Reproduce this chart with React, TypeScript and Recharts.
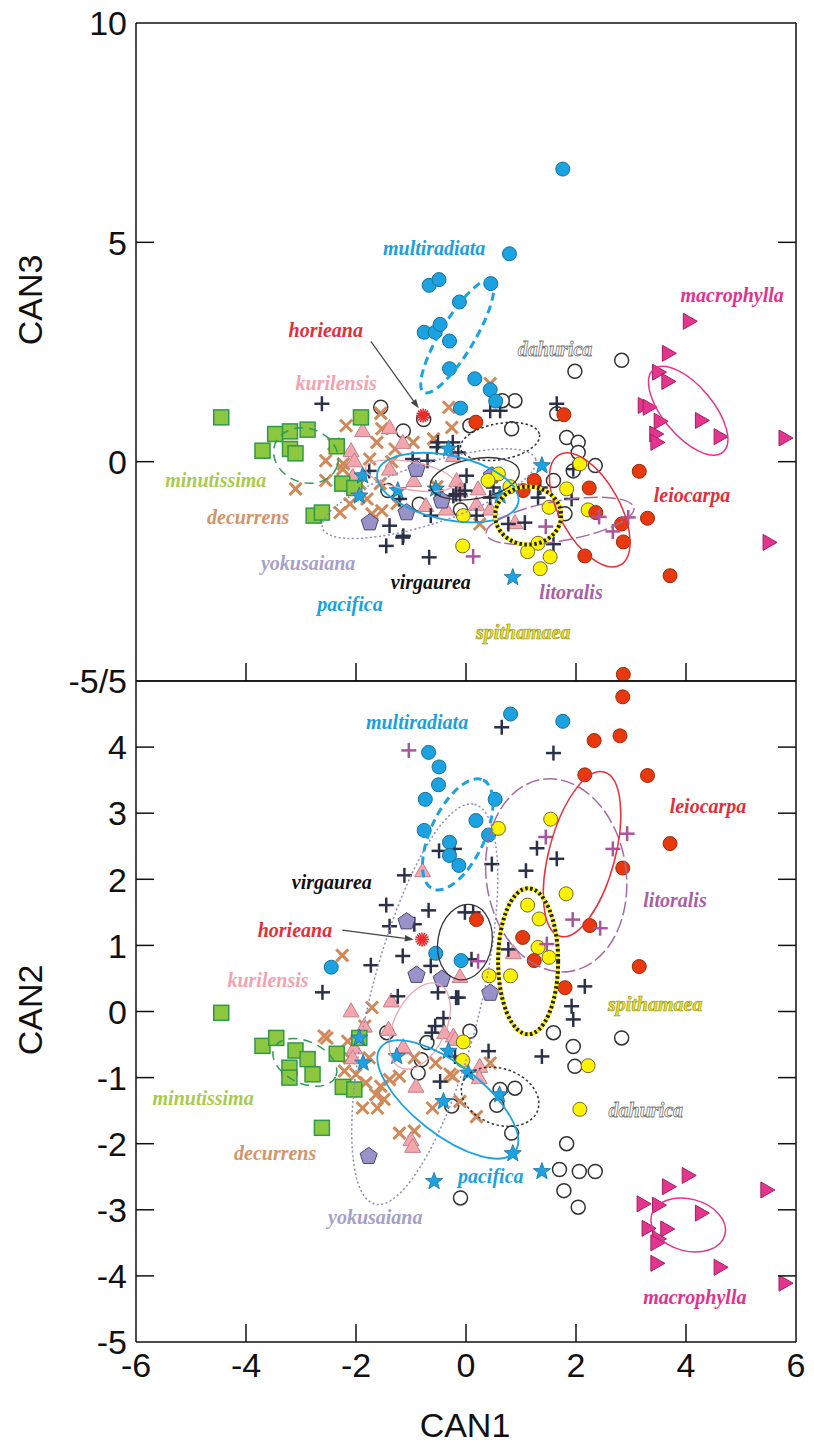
import React from 'react';
import { ScatterChart, Scatter, XAxis, YAxis, ReferenceDot, ReferenceLine } from 'recharts';

// ---------- top panel: CAN1 vs CAN3 ----------
const multiradiataT = [[1.76,6.67],[0.79,4.74],[0.45,4.06],[-0.12,3.64],[-0.67,4.02],[-0.49,4.15],[-0.76,2.95],[-0.56,2.95],[-0.47,3.13],[-0.3,2.75],[-0.3,2.12],[0.16,1.89],[0.44,1.64],[0.54,1.38],[-0.1,1.22]];
const horieanaT = [[-0.78,1.05]];
const kurilensisT = [[-1.88,0.71],[-2.09,0.25],[-2.03,0.02],[-1.39,0.78],[-1.15,0.44],[-1.39,-0.17],[-0.95,-0.43],[-0.73,-1.0],[-0.36,-1.08],[-2.06,-0.34],[-0.17,-0.43],[0.22,-0.62],[0.19,-0.97],[0.44,-1.08],[-0.23,0.14],[-0.11,-0.66],[0.89,-1.39]];
const minutissimaT = [[-4.45,1.01],[-3.47,0.63],[-3.2,0.69],[-2.88,0.73],[-3.7,0.25],[-3.2,0.29],[-3.1,0.19],[-2.35,0.35],[-1.91,1.01],[-2.25,-0.5],[-2.03,-0.6],[-2.77,-1.23],[-2.62,-1.16]];
const decurrensT = [[-3.1,-0.62],[-2.55,0.02],[-2.55,-0.43],[-2.18,0.82],[-2.24,-0.17],[-1.55,1.1],[-0.31,1.24],[-1.53,0.75],[-1.62,0.44],[-2.23,-0.05],[-1.75,0.06],[-1.29,0.29],[-0.96,0.44],[-0.59,0.52],[-0.26,0.78],[-1.8,-0.85],[-2.11,-0.96],[-1.93,-0.5],[-1.56,-0.5],[-1.53,-1.12],[-1.71,-1.19],[-2.29,-1.16],[-0.53,-0.57],[0.25,-1.42],[0.44,1.78],[-1.25,-0.95],[-2.4,0.4],[-1.35,0.0]];
const yokusaianaT = [[-0.9,-0.17],[0.47,-0.32],[-0.44,-0.89],[-1.08,-1.16],[-1.75,-1.39]];
const virgaureaT = [[-2.62,1.32],[-1.76,-0.21],[-0.97,0.06],[-0.7,0.02],[-1.21,-0.85],[-1.39,-1.46],[-1.15,-1.73],[-1.45,-1.92],[-0.67,-2.18],[-0.64,-1.23],[-0.51,0.44],[-0.24,0.44],[-0.53,0.33],[-0.14,0.21],[-0.55,-0.66],[-0.18,-0.74],[-0.11,-0.74],[0.01,-0.32],[0.5,-0.59],[0.44,-0.82],[0.19,-1.23],[0.44,1.16],[0.62,1.16],[1.65,1.32],[1.95,-0.17],[1.31,-0.82],[1.35,-0.59],[1.92,-0.85],[1.07,-1.39],[0.77,-1.42],[1.59,-1.88],[-0.02,-0.66],[-1.14,-1.69],[-0.23,-0.78]];
const pacificaT = [[-1.88,-0.32],[-1.94,-0.78],[-1.24,-0.66],[-0.55,-0.62],[-0.32,0.29],[1.38,-0.09],[0.62,-0.78],[0.85,-2.64]];
const dahuricaT = [[-1.55,1.24],[-0.77,0.96],[-1.14,0.7],[-1.42,-0.66],[-0.85,-0.97],[-0.1,-1.1],[0.89,1.39],[0.66,1.39],[0.07,0.82],[0.83,0.75],[1.98,2.06],[2.83,2.31],[1.65,1.09],[1.83,0.55],[2.04,0.44],[2.04,0.21],[2.35,-0.09],[1.95,-0.21],[1.59,-0.43],[1.8,-1.19]];
const spithamaeaT = [[0.59,-0.28],[0.8,-0.57],[0.4,-0.43],[-0.05,-1.23],[-0.06,-1.92],[1.83,-0.62],[1.51,-1.04],[2.22,-1.1],[1.31,-1.86],[1.12,-2.05],[1.53,-2.17],[1.35,-2.44],[2.07,-0.05]];
const leiocarpaT = [[0.18,0.9],[1.78,1.07],[3.15,-0.22],[2.24,-0.6],[3.3,-1.29],[2.83,-1.42],[2.86,-1.83],[2.36,-1.16],[2.16,-2.15],[3.71,-2.6],[1.24,-0.43],[1.04,-0.66],[2.86,-4.85]];
const litoralisT = [[1.45,-1.48],[0.13,-2.16],[2.42,-1.26],[2.67,-1.59],[2.95,-1.27]];
const macrophyllaT = [[4.06,3.2],[3.68,2.47],[3.5,2.04],[3.67,1.83],[3.24,1.28],[3.33,1.24],[3.53,0.92],[4.28,0.94],[3.45,0.63],[3.47,0.44],[4.62,0.57],[5.8,0.54],[5.51,-1.84]];

// ---------- bottom panel: CAN1 vs CAN2 ----------
const multiradiataB = [[-0.68,3.92],[-0.49,3.7],[-0.5,3.43],[-0.74,3.21],[-0.76,2.74],[-0.3,2.56],[-0.3,2.36],[-0.13,2.21],[-2.45,0.67],[-0.55,0.88],[-0.09,0.77],[0.81,4.5],[1.76,4.39],[0.53,3.21],[0.18,2.89],[0.41,2.67]];
const horieanaB = [[-0.8,1.09]];
const kurilensisB = [[-0.79,2.13],[-1.36,0.16],[-2.09,0.01],[-1.85,-0.22],[-2.03,-0.55],[-2.06,-0.7],[-1.41,-0.27],[-1.15,-0.55],[-0.91,-1.13],[-1.0,-1.94],[-0.97,-2.04],[-0.39,-0.32],[-0.23,-0.37],[-1.14,-0.53],[-0.11,0.53],[0.25,-0.83],[0.86,0.89],[-0.2,-0.42],[0.24,-1.0]];
const minutissimaB = [[-4.45,-0.02],[-3.7,-0.52],[-3.45,-0.4],[-3.1,-0.59],[-2.88,-0.72],[-3.21,-0.85],[-3.21,-1.0],[-2.79,-0.95],[-2.35,-0.64],[-2.24,-1.14],[-2.03,-1.18],[-2.62,-1.76],[-1.94,-0.4]];
const decurrensB = [[-2.25,0.85],[-1.71,0.06],[-2.53,-0.4],[-1.84,-0.22],[-2.58,-0.37],[-2.15,-0.45],[-2.12,-0.7],[-2.21,-0.9],[-2.0,-0.95],[-1.76,-0.7],[-1.82,-1.08],[-1.64,-1.26],[-1.49,-1.33],[-1.88,-1.46],[-1.61,-1.46],[-1.39,-1.03],[-1.21,-0.98],[-0.94,-0.7],[-1.21,-1.84],[-0.94,-1.81],[-0.61,-1.46],[-0.55,-0.78],[-0.24,-0.98],[-1.55,-1.13],[0.44,-0.78],[0.19,-1.59],[-0.11,-1.36],[-0.29,-0.95]];
const yokusaianaB = [[-1.08,1.36],[-0.9,0.55],[-0.44,0.49],[0.44,0.28],[-1.77,-2.19]];
const virgaureaB = [[-0.49,2.43],[-0.21,2.46],[-1.12,2.06],[-1.45,1.61],[-0.68,1.53],[-1.39,1.29],[-0.94,1.32],[-1.73,0.7],[-1.15,0.84],[-0.64,0.69],[-2.61,0.29],[-1.24,0.23],[-0.51,0.29],[-0.18,0.21],[-0.02,1.5],[0.13,1.5],[0.1,0.79],[0.77,0.94],[-0.41,-0.1],[-0.56,-0.22],[-0.62,-0.32],[0.41,-0.6],[-0.47,-1.06],[1.38,-0.68],[-0.2,-0.68],[0.65,4.3],[1.59,3.91],[0.47,2.23],[1.29,2.47],[1.65,2.31],[1.09,2.13],[2.16,0.38],[1.92,0.08],[1.95,-0.12],[-0.14,0.21]];
const pacificaB = [[-1.94,-0.4],[-1.87,-0.78],[-1.26,-0.68],[-0.32,-0.6],[0.04,-0.93],[0.61,-1.26],[-0.41,-1.36],[0.85,-2.15],[1.38,-2.42],[-0.58,-2.57]];
const dahuricaB = [[0.07,-0.3],[-0.71,-0.47],[-0.81,-0.73],[-0.87,-0.93],[-1.44,-0.32],[1.59,-0.32],[0.62,-1.18],[0.89,-1.16],[1.95,-0.53],[1.98,-0.83],[2.83,-0.4],[0.56,-1.42],[-0.26,-1.43],[0.83,-1.84],[1.83,-2.0],[1.7,-2.39],[2.06,-2.42],[2.35,-2.42],[1.78,-2.71],[2.04,-2.96],[-0.1,-2.82]];
const spithamaeaB = [[1.54,2.91],[0.59,2.77],[1.82,1.78],[1.12,1.61],[1.33,1.4],[1.31,0.97],[1.51,0.82],[0.42,0.54],[0.81,0.54],[-0.05,-0.46],[-0.06,-0.74],[2.22,-0.82],[2.07,-1.48]];
const leiocarpaB = [[2.85,4.76],[2.33,4.1],[2.8,4.17],[2.16,3.58],[3.3,3.57],[3.71,2.54],[2.85,2.17],[2.25,1.3],[0.19,1.39],[1.03,1.12],[1.24,0.77],[3.15,0.68],[1.8,0.36]];
const litoralisB = [[-1.04,3.95],[1.45,2.64],[2.67,2.46],[2.93,2.69],[1.94,1.39],[2.44,1.26],[1.47,1.02],[0.22,0.76]];
const macrophyllaB = [[4.04,-2.48],[3.68,-2.65],[3.22,-2.91],[3.5,-2.93],[4.28,-3.05],[3.31,-3.28],[3.65,-3.29],[3.5,-3.44],[3.47,-3.5],[3.47,-3.81],[4.62,-3.87],[5.47,-2.7],[5.8,-4.11]];

// axes
const xTicks = [-6, -4, -2, 0, 2, 4, 6];
const topYTicks = [-5, 0, 5, 10];
const bottomYTicks = [-5, -4, -3, -2, -1, 0, 1, 2, 3, 4, 5];

// label anchors (data units)
const topLabels: [string, number, number][] = [
  ['multiradiata', -0.58, 4.86], ['macrophylla', 4.84, 3.79], ['horieana', -2.55, 2.99], ['dahurica', 1.62, 2.56],
  ['kurilensis', -2.36, 1.78], ['minutissima', -4.55, -0.43], ['decurrens', -3.96, -1.26], ['leiocarpa', 4.11, -0.78],
  ['yokusaiana', -2.87, -2.33], ['virgaurea', -0.64, -2.76], ['litoralis', 1.91, -2.97], ['pacifica', -2.11, -3.26],
  ['spithamaea', 1.04, -3.9],
];
const bottomLabels: [string, number, number][] = [
  ['multiradiata', -0.89, 4.38], ['leiocarpa', 4.4, 3.11], ['virgaurea', -2.44, 1.95], ['litoralis', 3.8, 1.68],
  ['horieana', -3.11, 1.23], ['kurilensis', -3.6, 0.47], ['spithamaea', 3.44, 0.11], ['minutissima', -4.78, -1.32],
  ['dahurica', 3.27, -1.5], ['decurrens', -3.47, -2.14], ['pacifica', 0.45, -2.5], ['yokusaiana', -1.65, -3.12],
  ['macrophylla', 4.16, -4.33],
];
const topArrow = [[-1.73, 2.74], [-0.86, 1.22]];
const bottomArrow = [[-2.25, 1.23], [-0.95, 1.09]];

// confidence ellipses: centre in data units, radii in px, rotation in degrees
type Ell = { g: string; x: number; y: number; rx: number; ry: number; a: number };
const topEllipses: Ell[] = [
  { g: 'yokusaiana', x: -0.67, y: -0.73, rx: 112, ry: 30, a: -18 },
  { g: 'minutissima', x: -2.91, y: 0.14, rx: 33, ry: 27, a: 20 },
  { g: 'kurilensis', x: -1.02, y: -0.32, rx: 45, ry: 14, a: 10 },
  { g: 'virgaurea', x: 0.16, y: -0.39, rx: 45, ry: 20, a: -10 },
  { g: 'pacifica', x: -0.33, y: -0.59, rx: 72, ry: 32, a: 12 },
  { g: 'dahurica', x: 0.62, y: 0.46, rx: 40, ry: 18, a: -10 },
  { g: 'litoralis', x: 1.71, y: -1.35, rx: 75, ry: 20, a: -10 },
  { g: 'leiocarpa', x: 2.25, y: -1.1, rx: 63, ry: 30, a: 61 },
  { g: 'spithamaea', x: 1.13, y: -1.23, rx: 33, ry: 29, a: 0 },
  { g: 'macrophylla', x: 4.04, y: 1.16, rx: 54, ry: 25, a: 50 },
  { g: 'multiradiata', x: -0.16, y: 2.85, rx: 65, ry: 17, a: -59 },
];
const bottomEllipses: Ell[] = [
  { g: 'yokusaiana', x: -0.75, y: 0.11, rx: 206, ry: 55, a: -76 },
  { g: 'minutissima', x: -2.93, y: -0.77, rx: 34, ry: 21, a: 25 },
  { g: 'kurilensis', x: -0.84, y: -0.22, rx: 46, ry: 26, a: -65 },
  { g: 'virgaurea', x: -0.02, y: 1.05, rx: 27, ry: 38, a: 10 },
  { g: 'pacifica', x: -0.33, y: -1.33, rx: 85, ry: 35, a: 38 },
  { g: 'dahurica', x: 0.62, y: -1.29, rx: 40, ry: 28, a: 20 },
  { g: 'litoralis', x: 1.64, y: 2.06, rx: 70, ry: 97, a: -8 },
  { g: 'leiocarpa', x: 2.11, y: 2.38, rx: 85, ry: 33, a: -75 },
  { g: 'spithamaea', x: 1.13, y: 0.76, rx: 30, ry: 73, a: 0 },
  { g: 'macrophylla', x: 4.04, y: -3.23, rx: 38, ry: 26, a: 15 },
  { g: 'multiradiata', x: -0.15, y: 2.68, rx: 60, ry: 27, a: -65 },
];

const pts = (arr: number[][]) => arr.map(([x, y]) => ({ x, y }));

// ---------- marker shapes ----------
const dot = (fill: string, stroke: string, sw = 1) => (p: any) =>
  <circle cx={p.cx} cy={p.cy} r={7} fill={fill} stroke={stroke} strokeWidth={sw} />;
const square = (p: any) =>
  <rect x={p.cx - 7.5} y={p.cy - 7.5} width={15} height={15} fill="#8dc63f" stroke="#2e9a48" strokeWidth={1.5} />;
const triUp = (p: any) =>
  <polygon points={`${p.cx},${p.cy - 8} ${p.cx + 8},${p.cy + 6} ${p.cx - 8},${p.cy + 6}`} fill="#f4a6ae" stroke="#c47f88" strokeWidth={1} />;
const triRight = (p: any) =>
  <polygon points={`${p.cx + 8},${p.cy} ${p.cx - 6},${p.cy - 8} ${p.cx - 6},${p.cy + 8}`} fill="#e3348f" stroke="#a3205f" strokeWidth={1} />;
const cross = (p: any) => (
  <g stroke="#d08a5a" strokeWidth={3}>
    <line x1={p.cx - 6} y1={p.cy - 6} x2={p.cx + 6} y2={p.cy + 6} />
    <line x1={p.cx - 6} y1={p.cy + 6} x2={p.cx + 6} y2={p.cy - 6} />
  </g>
);
const plus = (color: string) => (p: any) => (
  <g stroke={color} strokeWidth={2.5}>
    <line x1={p.cx - 7.5} y1={p.cy} x2={p.cx + 7.5} y2={p.cy} />
    <line x1={p.cx} y1={p.cy - 7.5} x2={p.cx} y2={p.cy + 7.5} />
  </g>
);
const polyPath = (cx: number, cy: number, n: number, R: number, r?: number) => {
  let d = '';
  const k = r ? n * 2 : n;
  for (let i = 0; i < k; i++) {
    const a = -Math.PI / 2 + (i * 2 * Math.PI) / k;
    const rad = r && i % 2 === 1 ? r : R;
    d += (i ? 'L' : 'M') + (cx + rad * Math.cos(a)).toFixed(1) + ',' + (cy + rad * Math.sin(a)).toFixed(1);
  }
  return d + 'Z';
};
const pentagon = (p: any) => <path d={polyPath(p.cx, p.cy, 5, 9)} fill="#9992c8" stroke="#4d4775" strokeWidth={1} />;
const star = (p: any) => <path d={polyPath(p.cx, p.cy, 5, 9, 3.8)} fill="#1ba3e1" stroke="#1a6e9a" strokeWidth={0.8} />;
const burst = (p: any) => (
  <g stroke="#ee2a2a" strokeWidth={1.6}>
    {[0, 1, 2, 3, 4, 5, 6, 7].map((i) => {
      const a = (i * Math.PI) / 8;
      return <line key={i} x1={p.cx - 7 * Math.cos(a)} y1={p.cy - 7 * Math.sin(a)} x2={p.cx + 7 * Math.cos(a)} y2={p.cy + 7 * Math.sin(a)} />;
    })}
  </g>
);

const MARKERS: Record<string, (p: any) => React.ReactElement> = {
  dahurica: dot('#ffffff', '#333333', 1.5),
  decurrens: cross,
  kurilensis: triUp,
  minutissima: square,
  virgaurea: plus('#2a3148'),
  yokusaiana: pentagon,
  multiradiata: dot('#1ba3e1', '#1a6e9a'),
  pacifica: star,
  spithamaea: dot('#fff200', '#6e6a2a'),
  leiocarpa: dot('#e8380d', '#9c2a08'),
  litoralis: plus('#a8559e'),
  macrophylla: triRight,
  horieana: burst,
};
const ORDER = ['dahurica', 'decurrens', 'kurilensis', 'minutissima', 'virgaurea', 'yokusaiana', 'multiradiata', 'pacifica', 'spithamaea', 'leiocarpa', 'litoralis', 'macrophylla', 'horieana'];

const topSeries: Record<string, number[][]> = {
  multiradiata: multiradiataT, horieana: horieanaT, kurilensis: kurilensisT, minutissima: minutissimaT,
  decurrens: decurrensT, yokusaiana: yokusaianaT, virgaurea: virgaureaT, pacifica: pacificaT,
  dahurica: dahuricaT, spithamaea: spithamaeaT, leiocarpa: leiocarpaT, litoralis: litoralisT, macrophylla: macrophyllaT,
};
const bottomSeries: Record<string, number[][]> = {
  multiradiata: multiradiataB, horieana: horieanaB, kurilensis: kurilensisB, minutissima: minutissimaB,
  decurrens: decurrensB, yokusaiana: yokusaianaB, virgaurea: virgaureaB, pacifica: pacificaB,
  dahurica: dahuricaB, spithamaea: spithamaeaB, leiocarpa: leiocarpaB, litoralis: litoralisB, macrophylla: macrophyllaB,
};

// ellipse line styles
const ELL_STYLE: Record<string, { stroke: string; sw: number; dash?: string }> = {
  multiradiata: { stroke: '#1ba3e1', sw: 3, dash: '8 5' },
  minutissima: { stroke: '#2e9b59', sw: 1.5, dash: '9 6' },
  kurilensis: { stroke: '#f0a3ac', sw: 1.3 },
  yokusaiana: { stroke: '#8e8bc0', sw: 1.5, dash: '2 2.5' },
  virgaurea: { stroke: '#333333', sw: 1.3 },
  pacifica: { stroke: '#1ba3e1', sw: 1.8 },
  dahurica: { stroke: '#333333', sw: 1.5, dash: '2.5 2.5' },
  leiocarpa: { stroke: '#e8303a', sw: 1.5 },
  litoralis: { stroke: '#a56aa5', sw: 1.5, dash: '14 4' },
  macrophylla: { stroke: '#e3348f', sw: 1.5 },
};

// label text colours
const LABEL_STYLE: Record<string, { fill: string; stroke?: string; sw?: number }> = {
  multiradiata: { fill: '#1aa0de' }, horieana: { fill: '#e0303a' }, kurilensis: { fill: '#f2a3ae' },
  minutissima: { fill: '#a9cb4c' }, decurrens: { fill: '#d4946a' }, yokusaiana: { fill: '#a59fcc' },
  virgaurea: { fill: '#111111' }, pacifica: { fill: '#19a3de' }, dahurica: { fill: '#ffffff', stroke: '#777777', sw: 0.8 },
  leiocarpa: { fill: '#e0303a' }, litoralis: { fill: '#a85fa5' }, spithamaea: { fill: '#ece31c', stroke: '#8c8c2c', sw: 0.6 },
  macrophylla: { fill: '#e0338e' },
};

const TICK = 18;
const AXIS_FONT = '"Liberation Sans", Arial, sans-serif';
const LINE = '#111';

function LeftTick(props: any) {
  const { x, y, payload, panel } = props;
  const v = payload.value;
  const edge = panel === 'top' ? v === 10 || v === -5 : v === 5 || v === -5;
  const text = panel === 'top' ? (v === -5 ? '-5/5' : String(v)) : v === 5 ? '' : String(v);
  return (
    <g>
      {!edge && <line x1={x} x2={x + TICK} y1={y} y2={y} stroke={LINE} strokeWidth={1.5} />}
      {text && (
        <text x={x - 9} y={y} dy="0.36em" textAnchor="end" fontFamily={AXIS_FONT} fontSize={34} fill="#111">{text}</text>
      )}
    </g>
  );
}
function RightTick(props: any) {
  const { x, y, payload, panel } = props;
  const v = payload.value;
  const edge = panel === 'top' ? v === 10 || v === -5 : v === 5 || v === -5;
  return edge ? <g /> : <line x1={x - TICK} x2={x} y1={y} y2={y} stroke={LINE} strokeWidth={1.5} />;
}
function BottomTick(props: any) {
  const { x, y, payload, showLabel } = props;
  const v = payload.value;
  const edge = v === -6 || v === 6;
  return (
    <g>
      {!edge && <line x1={x} x2={x} y1={y} y2={y - TICK} stroke={LINE} strokeWidth={1.5} />}
      {showLabel && (
        <text x={x} y={y + 23} dy="0.36em" textAnchor="middle" fontFamily={AXIS_FONT} fontSize={34} fill="#111">{String(v)}</text>
      )}
    </g>
  );
}
function TopTick(props: any) {
  const { x, y, payload } = props;
  const v = payload.value;
  if (v === -6 || v === 6) return <g />;
  return <line x1={x} x2={x} y1={y} y2={y + TICK} stroke={LINE} strokeWidth={1.5} />;
}

const ellipseShape = (e: Ell) => (p: any) => {
  if (e.g === 'spithamaea') {
    return (
      <g transform={`rotate(${e.a} ${p.cx} ${p.cy})`} fill="none">
        <ellipse cx={p.cx} cy={p.cy} rx={e.rx} ry={e.ry} stroke="#fff200" strokeWidth={4} />
        <ellipse cx={p.cx} cy={p.cy} rx={e.rx} ry={e.ry} stroke="#222" strokeWidth={4} strokeDasharray="2.5 2.5" />
      </g>
    );
  }
  const s = ELL_STYLE[e.g];
  return (
    <ellipse cx={p.cx} cy={p.cy} rx={e.rx} ry={e.ry} transform={`rotate(${e.a} ${p.cx} ${p.cy})`}
      fill="none" stroke={s.stroke} strokeWidth={s.sw} strokeDasharray={s.dash} />
  );
};

const labelShape = (name: string) => (p: any) => {
  const s = LABEL_STYLE[name];
  return (
    <text x={p.cx} y={p.cy} dy="0.33em" textAnchor="middle" fontFamily='"Liberation Serif", "Times New Roman", serif'
      fontWeight="bold" fontStyle="italic" fontSize={20} fill={s.fill} stroke={s.stroke} strokeWidth={s.sw}>
      {name}
    </text>
  );
};

const arrowShape = (p: any) => {
  const { x1, y1, x2, y2 } = p;
  const dx = x2 - x1, dy = y2 - y1;
  const len = Math.sqrt(dx * dx + dy * dy) || 1;
  const ux = dx / len, uy = dy / len;
  const bx = x2 - ux * 9, by = y2 - uy * 9;
  return (
    <g>
      <line x1={x1} y1={y1} x2={bx} y2={by} stroke="#444" strokeWidth={1.2} />
      <polygon points={`${x2},${y2} ${bx - uy * 3.2},${by + ux * 3.2} ${bx + uy * 3.2},${by - ux * 3.2}`} fill="#444" />
    </g>
  );
};

function Panel({ panel }: { panel: 'top' | 'bottom' }) {
  const isTop = panel === 'top';
  const series = isTop ? topSeries : bottomSeries;
  const ellipses = isTop ? topEllipses : bottomEllipses;
  const labels = isTop ? topLabels : bottomLabels;
  const arrow = isTop ? topArrow : bottomArrow;
  const yDomain = isTop ? [-5, 10] : [-5, 5];
  const yTicks = isTop ? topYTicks : bottomYTicks;
  const axisLine = { stroke: LINE, strokeWidth: 1.5 };
  return (
    <ScatterChart
      width={814}
      height={isTop ? 700 : 784}
      margin={isTop ? { top: 22, right: 17, bottom: 18, left: 36 } : { top: 20, right: 17, bottom: 12, left: 36 }}
    >
      <XAxis type="number" dataKey="x" domain={[-6, 6]} ticks={xTicks} interval={0} allowDataOverflow
        axisLine={axisLine} tickLine={false} tickSize={0} tickMargin={0} height={isTop ? 1 : 90}
        tick={<BottomTick showLabel={!isTop} />} />
      <XAxis xAxisId="t" orientation="top" type="number" domain={[-6, 6]} ticks={xTicks} interval={0} allowDataOverflow
        axisLine={axisLine} tickLine={false} tickSize={0} tickMargin={0} height={1}
        tick={isTop ? false : <TopTick />} />
      <YAxis type="number" dataKey="y" domain={yDomain} ticks={yTicks} interval={0} allowDataOverflow
        axisLine={axisLine} tickLine={false} tickSize={0} tickMargin={0} width={100}
        tick={<LeftTick panel={panel} />} />
      <YAxis yAxisId="r" orientation="right" type="number" domain={yDomain} ticks={yTicks} interval={0} allowDataOverflow
        axisLine={axisLine} tickLine={false} tickSize={0} tickMargin={0} width={1}
        tick={<RightTick panel={panel} />} />
      {ORDER.map((g) => (
        <Scatter key={g} name={g} data={pts(series[g])} shape={MARKERS[g]} isAnimationActive={false} />
      ))}
      {ellipses.map((e) => (
        <ReferenceDot key={'e' + e.g} x={e.x} y={e.y} r={0} ifOverflow="visible" shape={ellipseShape(e)} />
      ))}
      <ReferenceLine segment={[{ x: arrow[0][0], y: arrow[0][1] }, { x: arrow[1][0], y: arrow[1][1] }]}
        ifOverflow="visible" shape={arrowShape} />
      {labels.map(([name, x, y]) => (
        <ReferenceDot key={'l' + name} x={x} y={y} r={0} ifOverflow="visible" shape={labelShape(name)} />
      ))}
    </ScatterChart>
  );
}

export default function App() {
  return (
    <div style={{ position: 'absolute', left: 0, top: 0, width: 814, height: 1444, background: '#fff' }}>
      <div style={{ position: 'absolute', left: 0, top: 0 }}>
        <Panel panel="top" />
      </div>
      <div style={{ position: 'absolute', left: 0, top: 660 }}>
        <Panel panel="bottom" />
      </div>
      <svg width={814} height={1444} style={{ position: 'absolute', left: 0, top: 0, pointerEvents: 'none' }}>
        <g fontFamily={AXIS_FONT} fontSize={34} fill="#111" textAnchor="middle">
          <text x={465} y={1425} dy="0.36em">CAN1</text>
          <text transform="translate(30,300) rotate(-90)" dy="0.36em">CAN3</text>
          <text transform="translate(30,1010) rotate(-90)" dy="0.36em">CAN2</text>
        </g>
      </svg>
    </div>
  );
}
